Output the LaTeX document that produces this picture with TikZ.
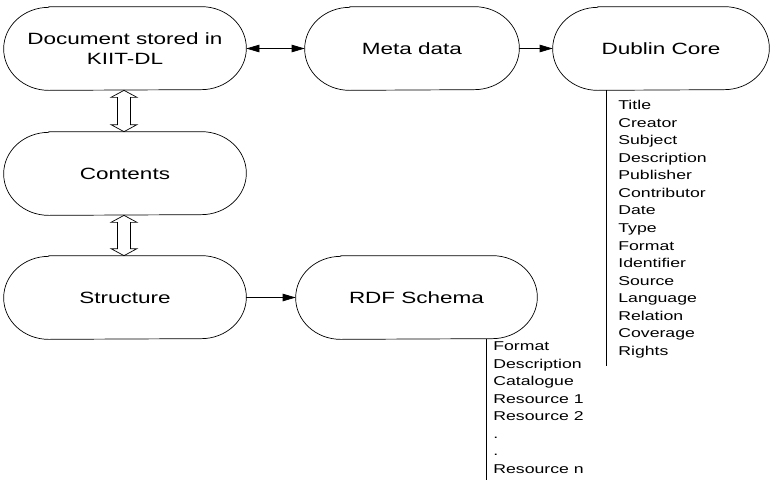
\documentclass[tikz,border=0pt]{standalone}
\usepackage{fontspec}
\setmainfont{Liberation Sans}[FakeStretch=1.38]
\usetikzlibrary{arrows.meta}
\usetikzlibrary{calc}

\begin{document}
\begin{tikzpicture}[
    x=1pt, y=-1pt,
    line width=0.7pt,
    >={Triangle[length=13pt, width=7.5pt]},
    term box/.style={
        inner sep=0pt,
        align=center,
        minimum height=83pt,
        font=\fontsize{16.3}{20.5}\selectfont
    },
    list text/.style={
        inner sep=0pt,
        anchor=north west,
        align=left,
        font=\fontsize{12.8}{17.55}\selectfont
    }
  ]

  \useasboundingbox (0, 0) rectangle (776, 480);

  % the six terminals
  \node[term box, minimum width=242pt] (doc) at (125, 48.5) {Document stored in\\KIIT-DL};
  \node[term box, minimum width=214pt] (meta) at (412, 48.5) {Meta data};
  \node[term box, minimum width=216pt] (dc) at (661, 48.5) {Dublin Core};
  \node[term box, minimum width=242pt] (cont) at (125, 173.5) {Contents};
  \node[term box, minimum width=242pt] (struct) at (125, 297.5) {Structure};
  \node[term box, minimum width=241pt] (rdf) at (416.5, 297.5) {RDF Schema};

  \foreach \n in {doc, meta, dc, cont, struct, rdf}
    \draw ([xshift=45pt]\n.north west) -- ([xshift=-45pt]\n.north east)
      arc[start angle=90, end angle=-90, x radius=45pt, y radius=41.5pt]
      -- ([xshift=45pt]\n.south west)
      arc[start angle=270, end angle=90, x radius=45pt, y radius=41.5pt] -- cycle;

  % arrows
  \draw[<->] (doc) -- (meta);
  \draw[->] (meta) -- (dc);
  \draw[->] (struct) -- (rdf);

  % hollow double arrows
  \foreach \a/\b in {doc/cont, cont/struct}
    \draw ([xshift=-1pt]\a.south) -- ++(13, 7) -- ++(-6.5, 0)
      -- ($([xshift=-1pt]\b.north) + (6.5, -7)$) -- ++(6.5, 0)
      -- ([xshift=-1pt]\b.north) -- ++(-13, -7) -- ++(6.5, 0)
      -- ($([xshift=-1pt]\a.south) + (-6.5, 7)$) -- ++(-6.5, 0) -- cycle;

  % element lists
  \coordinate (dc_end) at (606, 366);
  \coordinate (rdf_end) at (486, 480);
  \draw (dc_end |- dc.south) -- (dc_end);
  \draw (rdf_end |- rdf.south) -- (rdf_end);

  \node[list text] (dc_list) at (618, 100) {Title\\Creator\\Subject\\Description\\Publisher\\Contributor\\Date\\Type\\Format\\Identifier\\Source\\Language\\Relation\\Coverage\\Rights};
  \node[list text] (rdf_list) at (493, 341.5) {Format\\Description\\Catalogue\\Resource 1\\Resource 2\\.\\.\\Resource n};

\end{tikzpicture}
\end{document}
